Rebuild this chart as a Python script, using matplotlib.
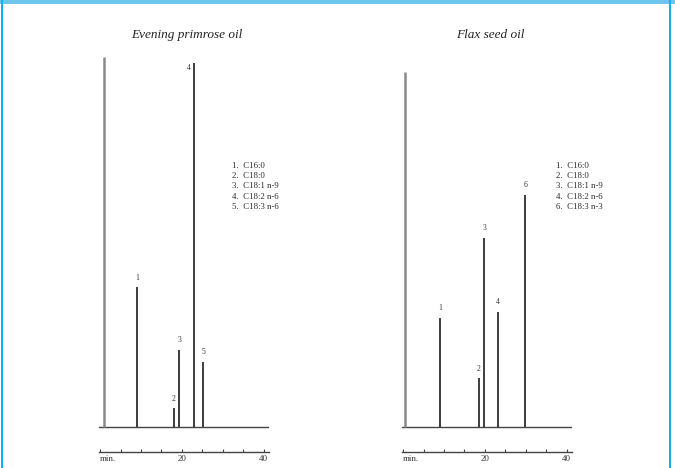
import matplotlib.pyplot as plt
from matplotlib.patches import Rectangle

# retention time (min) and relative peak height
titles = ['Evening primrose oil', 'Flax seed oil']

epo_times = [1.0, 9.0, 18.0, 19.3, 23.0, 25.2]
epo_heights = [100, 37.8, 5.1, 20.8, 98.4, 17.6]
epo_labels = ['', '1', '2', '3', '4', '5']

flax_times = [0.5, 9.0, 18.5, 19.8, 23.2, 29.8]
flax_heights = [96, 29.5, 13.2, 51.1, 31.1, 62.7]
flax_labels = ['', '1', '2', '3', '4', '6']

epo_legend = ['1.  C16:0', '2.  C18:0', '3.  C18:1 n-9', '4.  C18:2 n-6', '5.  C18:3 n-6']
flax_legend = ['1.  C16:0', '2.  C18:0', '3.  C18:1 n-9', '4.  C18:2 n-6', '6.  C18:3 n-3']

tick_pos = [0, 5, 10, 15, 20, 25, 30, 35, 40]
tick_labels = ['min.', '', '', '', '20', '', '', '', '40']

plt.rcParams['font.family'] = ['Liberation Serif', 'DejaVu Serif']

W, H = 675, 468
fig = plt.figure(figsize=(W / 100, H / 100), dpi=100)

# blue frame
fig.add_artist(Rectangle((0, 1 - 4 / H), 1, 4 / H, transform=fig.transFigure,
                         color='#6ec6ef', lw=0))
fig.add_artist(Rectangle((1 / W, 0), 2 / W, 1, transform=fig.transFigure,
                         color='#10b2ee', lw=0))
fig.add_artist(Rectangle((669 / W, 0), 2 / W, 1, transform=fig.transFigure,
                         color='#10b2ee', lw=0))

px_per_unit = 3.7
y_low = -25 / px_per_unit
y_high = (427 - 50) / px_per_unit
ax_bottom = 1 - 452 / H
ax_height = (452 - 50) / H

panels = [
    (99.2, epo_times, epo_heights, epo_labels, epo_legend, titles[0], 232),
    (402.2, flax_times, flax_heights, flax_labels, flax_legend, titles[1], 556),
]

for left_px, times, heights, labels, legend, title, leg_x in panels:
    ax = fig.add_axes([left_px / W, ax_bottom, 170 / W, ax_height])
    ax.set_xlim(-0.2, 41.3)
    ax.set_ylim(y_low, y_high)

    ax.plot([-0.2, 41.3], [0, 0], color='#444444', lw=1.0)
    for i, (t, h, lab) in enumerate(zip(times, heights, labels)):
        if i == 0:
            ax.vlines(t, 0, h, color='#8a8a8a', lw=1.8)
        else:
            ax.vlines(t, 0, h, color='#2e2e2e', lw=1.3)
        if lab:
            dx = -1.3 if h > 90 else 0
            dy = -2.5 if h > 90 else 1.5
            ax.text(t + dx, h + dy, lab, ha='center', va='bottom',
                    fontsize=5.5, color='#333333')

    for s in ['left', 'top', 'right']:
        ax.spines[s].set_visible(False)
    ax.spines['bottom'].set_color('#444444')
    ax.spines['bottom'].set_linewidth(1.0)
    ax.set_yticks([])
    ax.set_xticks(tick_pos)
    ax.set_xticklabels(tick_labels)
    ax.tick_params(axis='x', direction='in', length=2.5, width=0.8,
                   color='#444444', labelsize=6.5, labelcolor='#333333', pad=2)
    ax.get_xticklabels()[0].set_horizontalalignment('left')

    fig.text((left_px + 88) / W, 1 - 35 / H, title, ha='center', va='center',
             fontsize=9.5, style='italic', color='#222222')
    for j, line in enumerate(legend):
        fig.text(leg_x / W, 1 - (166 + j * 10.2) / H, line, ha='left',
                 va='center', fontsize=6.3, color='#2a2a2a')

fig.savefig('out.png', dpi=100, facecolor='white')
